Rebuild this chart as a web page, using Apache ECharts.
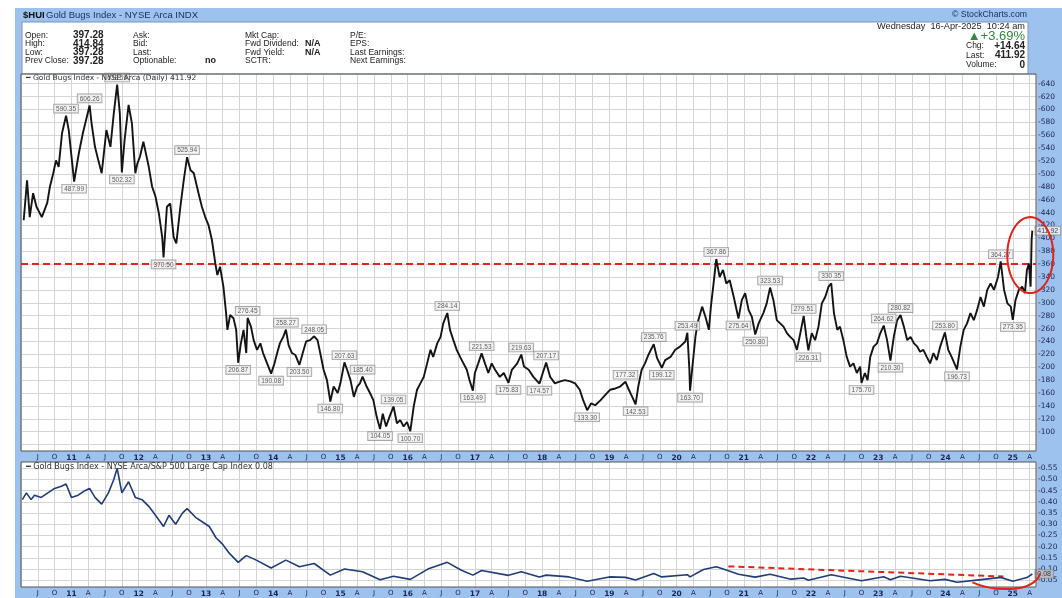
<!DOCTYPE html>
<html><head><meta charset="utf-8">
<script src="https://cdn.jsdelivr.net/npm/echarts@6/dist/echarts.min.js"></script>
<style>html,body{margin:0;padding:0;background:#fff}#c{width:1062px;height:598px}</style>
</head><body><div id="c"></div>
<script>
// ---------- DATA (decimal years) ----------
const priceDates = [2010.29,2010.34,2010.38,2010.43,2010.48,2010.56,2010.64,2010.68,2010.73,2010.77,2010.81,2010.86,2010.92,2010.96,2011.04,2011.11,2011.17,2011.27,2011.30,2011.35,2011.40,2011.45,2011.52,2011.58,2011.63,2011.68,2011.72,2011.75,2011.79,2011.85,2011.90,2011.95,2011.98,2012.02,2012.07,2012.15,2012.20,2012.25,2012.30,2012.35,2012.37,2012.42,2012.47,2012.52,2012.56,2012.62,2012.67,2012.72,2012.77,2012.82,2012.89,2012.94,2012.99,2013.04,2013.09,2013.14,2013.17,2013.21,2013.26,2013.30,2013.32,2013.36,2013.41,2013.45,2013.48,2013.52,2013.56,2013.60,2013.62,2013.67,2013.71,2013.76,2013.81,2013.85,2013.91,2013.97,2014.02,2014.06,2014.10,2014.15,2014.19,2014.23,2014.28,2014.33,2014.39,2014.44,2014.49,2014.55,2014.61,2014.66,2014.70,2014.75,2014.80,2014.85,2014.90,2014.96,2015.00,2015.06,2015.10,2015.15,2015.20,2015.25,2015.29,2015.33,2015.39,2015.44,2015.49,2015.54,2015.59,2015.63,2015.68,2015.73,2015.79,2015.84,2015.89,2015.94,2015.99,2016.04,2016.09,2016.14,2016.19,2016.24,2016.29,2016.34,2016.38,2016.44,2016.49,2016.53,2016.59,2016.63,2016.68,2016.73,2016.78,2016.83,2016.88,2016.92,2016.97,2017.00,2017.05,2017.10,2017.15,2017.20,2017.25,2017.30,2017.37,2017.43,2017.50,2017.55,2017.63,2017.69,2017.73,2017.80,2017.87,2017.96,2018.01,2018.06,2018.12,2018.19,2018.27,2018.34,2018.42,2018.49,2018.56,2018.61,2018.67,2018.73,2018.79,2018.87,2018.94,2019.01,2019.09,2019.16,2019.24,2019.29,2019.34,2019.39,2019.43,2019.48,2019.53,2019.58,2019.66,2019.71,2019.78,2019.83,2019.91,2019.98,2020.05,2020.13,2020.16,2020.19,2020.20,2020.24,2020.28,2020.31,2020.38,2020.43,2020.48,2020.51,2020.55,2020.59,2020.64,2020.69,2020.74,2020.79,2020.85,2020.92,2020.97,2021.02,2021.07,2021.12,2021.17,2021.22,2021.29,2021.34,2021.39,2021.44,2021.49,2021.54,2021.59,2021.64,2021.69,2021.74,2021.79,2021.84,2021.89,2021.93,2021.96,2022.01,2022.06,2022.11,2022.16,2022.21,2022.26,2022.30,2022.34,2022.39,2022.43,2022.48,2022.53,2022.58,2022.63,2022.68,2022.73,2022.75,2022.80,2022.84,2022.88,2022.93,2022.98,2023.03,2023.08,2023.13,2023.18,2023.23,2023.28,2023.33,2023.38,2023.43,2023.48,2023.53,2023.58,2023.62,2023.67,2023.72,2023.77,2023.82,2023.87,2023.92,2023.99,2024.04,2024.09,2024.17,2024.22,2024.27,2024.32,2024.37,2024.42,2024.47,2024.52,2024.57,2024.62,2024.67,2024.72,2024.78,2024.82,2024.87,2024.92,2024.97,2025.00,2025.04,2025.09,2025.14,2025.18,2025.21,2025.24,2025.265,2025.28,2025.29];
const priceValues = [428,490,433,470,449,433,455,480,501,521,511,563,590.35,568,487.99,532,563,606.26,578,542,521,501,568,542,594,638.59,594,502.32,552,607,578,501,516,527,550,511,480,465,439,402,370.5,449,454,402,392,449,490,525.94,506,501,470,449,433,420,397,361,343,356,325,284,258,281,276,258,206.87,237,258,222,276.45,263,242,227,237,222,206,190.08,206,222,237,247,258.27,234,222,219,203.5,222,240,242,248.05,242,222,196,180,146.8,170,160,175,207.63,196,180,154,170,175,185.4,170,160,149,123,104.05,128,108,123,139.05,113,118,108,115,100.7,139,165,175,185,206,227,216,237,247,268,284.14,258,242,227,216,206,196,180,163.49,191,206,221.53,206,191,206,196,185,191,175.83,196,206,219.63,201,196,185,174.57,191,207.17,185,175,178,180,178,175,165,149,133.3,144,141,149,157,165,167,170,177.32,165,154,142.53,170,196,206,219,235.76,214,199.12,211,216,227,232,240,253.49,196,163.7,206,247,268,294,278,258,294,330,367.86,340,351,330,335,309,275.64,304,315,289,278,250.8,268,284,299,323.53,304,273,268,263,253,247,242,227,253,279.51,247,226.31,253,242,263,299,309,325,330.35,284,258,263,242,216,201,206,191,201,175.7,191,180,216,232,237,253,264.62,242,210.3,247,273,280.82,263,242,247,237,232,224,227,216,206,222,211,232,253.8,227,216,196.73,232,258,268,284,273,289,309,294,320,330,320,340,364.27,320,299,294,273.35,304,320,325,315,351,361,325,398,411.92];

const ratioDates = [2010.27,2010.33,2010.40,2010.45,2010.55,2010.65,2010.75,2010.85,2010.92,2011.00,2011.10,2011.20,2011.27,2011.35,2011.45,2011.55,2011.63,2011.68,2011.75,2011.85,2011.95,2012.05,2012.15,2012.25,2012.37,2012.45,2012.55,2012.65,2012.72,2012.85,2012.95,2013.05,2013.15,2013.25,2013.35,2013.48,2013.60,2013.75,2013.97,2014.19,2014.39,2014.61,2014.85,2015.06,2015.33,2015.59,2015.79,2016.04,2016.30,2016.59,2016.80,2016.97,2017.10,2017.50,2017.69,2017.96,2018.06,2018.40,2018.67,2019.00,2019.24,2019.39,2019.66,2019.78,2020.16,2020.20,2020.40,2020.59,2020.75,2020.92,2021.17,2021.39,2021.70,2021.89,2021.96,2022.30,2022.75,2023.08,2023.18,2023.33,2023.77,2023.99,2024.17,2024.50,2024.82,2025.00,2025.21,2025.29];
const ratioValues = [0.41,0.44,0.41,0.43,0.42,0.44,0.46,0.47,0.48,0.42,0.43,0.45,0.46,0.42,0.39,0.44,0.50,0.55,0.44,0.49,0.42,0.41,0.38,0.34,0.29,0.34,0.30,0.35,0.37,0.33,0.31,0.29,0.24,0.21,0.17,0.13,0.16,0.14,0.105,0.14,0.11,0.125,0.073,0.10,0.088,0.052,0.068,0.054,0.10,0.13,0.095,0.073,0.094,0.072,0.088,0.065,0.073,0.065,0.046,0.065,0.063,0.051,0.080,0.065,0.075,0.065,0.098,0.11,0.095,0.077,0.064,0.077,0.055,0.060,0.050,0.075,0.048,0.066,0.052,0.068,0.048,0.054,0.041,0.052,0.063,0.046,0.062,0.078];

const peakDates  = [2010.92,2011.27,2011.68,2012.72,2013.62,2014.19,2014.61,2015.06,2015.33,2015.79,2016.59,2017.10,2017.69,2018.06,2019.24,2019.66,2020.16,2020.59,2021.39,2021.89,2022.30,2023.08,2023.33,2023.99,2024.82];
const peakValues = [590.35,606.26,638.59,525.94,276.45,258.27,248.05,207.63,185.4,139.05,284.14,221.53,219.63,207.17,177.32,235.76,253.49,367.86,323.53,279.51,330.35,264.62,280.82,253.8,364.27];
const troughDates  = [2011.04,2011.75,2012.37,2013.48,2013.97,2014.39,2014.85,2015.59,2016.04,2016.97,2017.50,2017.96,2018.67,2019.39,2019.78,2020.20,2020.92,2021.17,2021.96,2022.75,2023.18,2024.17,2025.00];
const troughValues = [487.99,502.32,370.5,206.87,190.08,203.5,146.8,104.05,100.7,163.49,175.83,174.57,133.3,142.53,199.12,163.7,275.64,250.8,226.31,175.7,210.3,196.73,273.35];

const quarterLetters = ['', 'A', 'J', 'O'];
const priceLabelRange = [100, 640, 20];
const ratioLabelRange = [0.05, 0.55, 0.05];
const supportLevel = 360;
const ratioTrend = [[2020.77, 0.112], [2024.86, 0.067]];

// ---------- STYLE ----------
const FONT = '"Liberation Sans", Arial, sans-serif';
const VFONT = '"DejaVu Sans", Verdana, sans-serif';
const BLUE = '#9ec2ee';
const GRIDC = '#d4d4d4';
const TXT = '#1c2450';
const RED = '#e2231a';

const chart = echarts.init(document.getElementById('c'), null, {renderer: 'canvas'});
const pairs = (a, b) => a.map((d, i) => [d, b[i]]);
const fmt2 = v => v.toFixed(2);

function xLabel(v) {
  const q4 = v * 4;
  if (Math.abs(q4 - Math.round(q4)) > 1e-6) return '';
  const y = Math.floor(v + 1e-6);
  const q = Math.round((v - y) * 4);
  if (q === 0) return '{b|' + String(y).slice(2) + '}';
  return quarterLetters[q];
}
function xAxisFor(i) {
  return {
    type: 'value', gridIndex: i, min: 2010.25, max: 2025.345, interval: 0.25,
    axisLine: {show: false}, axisTick: {show: false},
    splitLine: {show: true, lineStyle: {color: GRIDC, width: 1}},
    axisLabel: {showMinLabel: false, showMaxLabel: false, margin: 3, fontSize: 7, color: TXT,
      fontFamily: VFONT, formatter: xLabel, rich: {b: {fontWeight: 'bold', fontSize: 7.5, color: TXT, fontFamily: VFONT}}}
  };
}

function T(x, y, text, o) {
  o = o || {};
  return {type: 'text', z: 50, silent: true, style: {x, y, text, fill: o.fill || '#222',
    font: (o.bold ? 'bold ' : '') + (o.size || 8.5) + 'px ' + (o.family || FONT),
    textAlign: o.align || 'left', textVerticalAlign: 'middle'}};
}

const bg = [
  {type: 'rect', z: -10, silent: true, shape: {x: 15, y: 8, width: 1047, height: 590}, style: {fill: BLUE}},
  {type: 'rect', z: -9, silent: true, shape: {x: 22, y: 22, width: 1006, height: 52}, style: {fill: '#fff', stroke: '#7d93b8', lineWidth: 1}},
  {type: 'rect', z: -9, silent: true, shape: {x: 21, y: 74, width: 1015, height: 377}, style: {fill: '#fff'}},
  {type: 'rect', z: -9, silent: true, shape: {x: 21, y: 462, width: 1015, height: 125}, style: {fill: '#fff'}},
  {type: 'rect', z: 40, silent: true, shape: {x: 21, y: 74, width: 1015, height: 377}, style: {fill: 'none', stroke: '#555', lineWidth: 1}},
  {type: 'rect', z: 40, silent: true, shape: {x: 21, y: 462, width: 1015, height: 125}, style: {fill: 'none', stroke: '#555', lineWidth: 1}}
];
const header = [
  T(23, 15, '$HUI', {bold: true, size: 9.5, fill: '#111'}),
  T(46, 15, 'Gold Bugs Index - NYSE Arca INDX', {size: 9.5, fill: '#1d2f6b'}),
  T(1027, 15, '© StockCharts.com', {size: 8.7, fill: '#1d2f6b', align: 'right'}),
  T(25, 35.5, 'Open:'), T(73, 35.5, '397.28', {bold: true, size: 10}),
  T(25, 44, 'High:'), T(73, 44, '414.84', {bold: true, size: 10}),
  T(25, 52.5, 'Low:'), T(73, 52.5, '397.28', {bold: true, size: 10}),
  T(25, 61, 'Prev Close:'), T(73, 61, '397.28', {bold: true, size: 10}),
  T(133, 35.5, 'Ask:'), T(133, 44, 'Bid:'), T(133, 52.5, 'Last:'), T(133, 61, 'Optionable:'), T(205, 61, 'no', {bold: true, size: 9}),
  T(245, 35.5, 'Mkt Cap:'), T(245, 44, 'Fwd Dividend:'), T(305, 44, 'N/A', {bold: true, size: 9}),
  T(245, 52.5, 'Fwd Yield:'), T(305, 52.5, 'N/A', {bold: true, size: 9}), T(245, 61, 'SCTR:'),
  T(350, 35.5, 'P/E:'), T(350, 44, 'EPS:'), T(350, 52.5, 'Last Earnings:'), T(350, 61, 'Next Earnings:'),
  T(1025, 26, 'Wednesday  16-Apr-2025  10:24 am', {align: 'right', size: 9.2}),
  T(1025, 36, '▲+3.69%', {align: 'right', size: 13, fill: '#2f8a3c'}),
  T(966, 46, 'Chg:'), T(1025, 46, '+14.64', {align: 'right', bold: true, size: 10}),
  T(966, 55.5, 'Last:'), T(1025, 55.5, '411.92', {align: 'right', bold: true, size: 10}),
  T(966, 65, 'Volume:'), T(1025, 65, '0', {align: 'right', bold: true, size: 10}),
  T(26, 78.5, '━ Gold Bugs Index - NYSE Arca (Daily) ' + fmt2(priceValues[priceValues.length - 1]), {size: 7.5, fill: '#333', family: VFONT}),
  T(26, 466.5, '━ Gold Bugs Index - NYSE Arca/S&P 500 Large Cap Index ' + fmt2(ratioValues[ratioValues.length - 1]), {size: 8, fill: '#333', family: VFONT})
];

const boxLabel = {fontSize: 6.5, color: '#333', fontFamily: FONT, backgroundColor: '#f3f3f3',
  borderColor: '#888', borderWidth: 0.8, padding: [1, 2, 0, 2]};

const option = {
  backgroundColor: '#fff',
  animation: false,
  grid: [{left: 21, top: 74, width: 1015, height: 377}, {left: 21, top: 462, width: 1015, height: 125}],
  xAxis: [xAxisFor(0), xAxisFor(1)],
  yAxis: [
    {type: 'value', gridIndex: 0, position: 'right', min: 70, max: 655, interval: 10,
      axisLine: {show: false}, axisTick: {show: false},
      splitLine: {show: true, showMinLine: true, lineStyle: {color: ['rgba(0,0,0,0)', GRIDC], width: 1}},
      axisLabel: {margin: 2, fontSize: 7.5, color: TXT, fontFamily: VFONT, showMaxLabel: false,
        formatter: v => { const r = Math.round(v); return (r >= priceLabelRange[0] && r <= priceLabelRange[1] && r % priceLabelRange[2] === 0) ? '-' + r : ''; }}},
    {type: 'value', gridIndex: 1, position: 'right', min: 0.02, max: 0.578, interval: 0.01,
      axisLine: {show: false}, axisTick: {show: false},
      splitLine: {show: true, showMinLine: true, lineStyle: {color: ['rgba(0,0,0,0)', 'rgba(0,0,0,0)', 'rgba(0,0,0,0)', GRIDC, 'rgba(0,0,0,0)'], width: 1}},
      axisLabel: {margin: 2, fontSize: 7.5, color: TXT, fontFamily: VFONT, showMaxLabel: false,
        formatter: v => { const c = Math.round(v * 100); return (c >= ratioLabelRange[0] * 100 - 0.1 && c <= ratioLabelRange[1] * 100 + 0.1 && c % 5 === 0) ? '-' + (c / 100).toFixed(2) : ''; }}}
  ],
  series: [
    {type: 'line', xAxisIndex: 0, yAxisIndex: 0, data: pairs(priceDates, priceValues), symbol: 'none',
      lineStyle: {color: '#141414', width: 1.9}, z: 5,
      markLine: {silent: true, symbol: 'none', label: {show: false},
        lineStyle: {color: RED, type: [7, 4], width: 2}, data: [{yAxis: supportLevel}]}},
    {type: 'scatter', xAxisIndex: 0, yAxisIndex: 0, data: pairs(peakDates, peakValues), symbolSize: 0.1, z: 8,
      label: Object.assign({show: true, position: 'top', distance: 3, formatter: p => fmt2(peakValues[p.dataIndex])}, boxLabel)},
    {type: 'scatter', xAxisIndex: 0, yAxisIndex: 0, data: pairs(troughDates, troughValues), symbolSize: 0.1, z: 8,
      label: Object.assign({show: true, position: 'bottom', distance: 3, formatter: p => fmt2(troughValues[p.dataIndex])}, boxLabel)},
    {type: 'scatter', xAxisIndex: 0, yAxisIndex: 0, z: 9,
      data: [[priceDates[priceDates.length - 1], priceValues[priceValues.length - 1]]], symbolSize: 0.1,
      label: Object.assign({show: true, position: 'right', distance: 3, formatter: p => fmt2(p.value[1])}, boxLabel, {fontSize: 7, color: '#111'})},
    {type: 'line', xAxisIndex: 1, yAxisIndex: 1, data: pairs(ratioDates, ratioValues), symbol: 'none',
      lineStyle: {color: '#203c7a', width: 1.6}, z: 5,
      markLine: {silent: true, symbol: 'none', label: {show: false},
        lineStyle: {color: RED, type: [6, 4], width: 2},
        data: [[{coord: ratioTrend[0]}, {coord: ratioTrend[1]}]]}},
    {type: 'scatter', xAxisIndex: 1, yAxisIndex: 1, z: 9,
      data: [[ratioDates[ratioDates.length - 1], ratioValues[ratioValues.length - 1]]], symbolSize: 0.1,
      label: Object.assign({show: true, position: 'right', distance: 3, formatter: p => fmt2(p.value[1])}, boxLabel, {fontSize: 7, color: '#111', backgroundColor: '#bdbdbd'})}
  ],
  graphic: {elements: bg.concat(header)}
};
chart.setOption(option);

// hand-drawn style red overlays, placed from data coordinates
const c0 = chart.convertToPixel({xAxisIndex: 0, yAxisIndex: 0}, [2025.26, 374]);
const ell = [];
for (let k = 0; k <= 72; k++) {
  const a = k / 72 * Math.PI * 2;
  ell.push([c0[0] + 23 * Math.cos(a), c0[1] + 38 * Math.sin(a)]);
}
const a1 = chart.convertToPixel({xAxisIndex: 1, yAxisIndex: 1}, [2024.40, 0.041]);
const a2 = chart.convertToPixel({xAxisIndex: 1, yAxisIndex: 1}, [2024.70, 0.0]);
const a3 = chart.convertToPixel({xAxisIndex: 1, yAxisIndex: 1}, [2025.30, -0.01]);
const a4 = chart.convertToPixel({xAxisIndex: 1, yAxisIndex: 1}, [2025.41, 0.081]);
chart.setOption({graphic: {elements: bg.concat(header).concat([
  {type: 'polyline', z: 60, silent: true, shape: {points: ell}, style: {stroke: RED, lineWidth: 2, fill: 'none'}},
  {type: 'bezierCurve', z: 60, silent: true, shape: {x1: a1[0], y1: a1[1], cpx1: a2[0], cpy1: a2[1], cpx2: a3[0], cpy2: a3[1], x2: a4[0], y2: a4[1]},
    style: {stroke: RED, lineWidth: 2, fill: 'none'}}
])}});
</script></body></html>
